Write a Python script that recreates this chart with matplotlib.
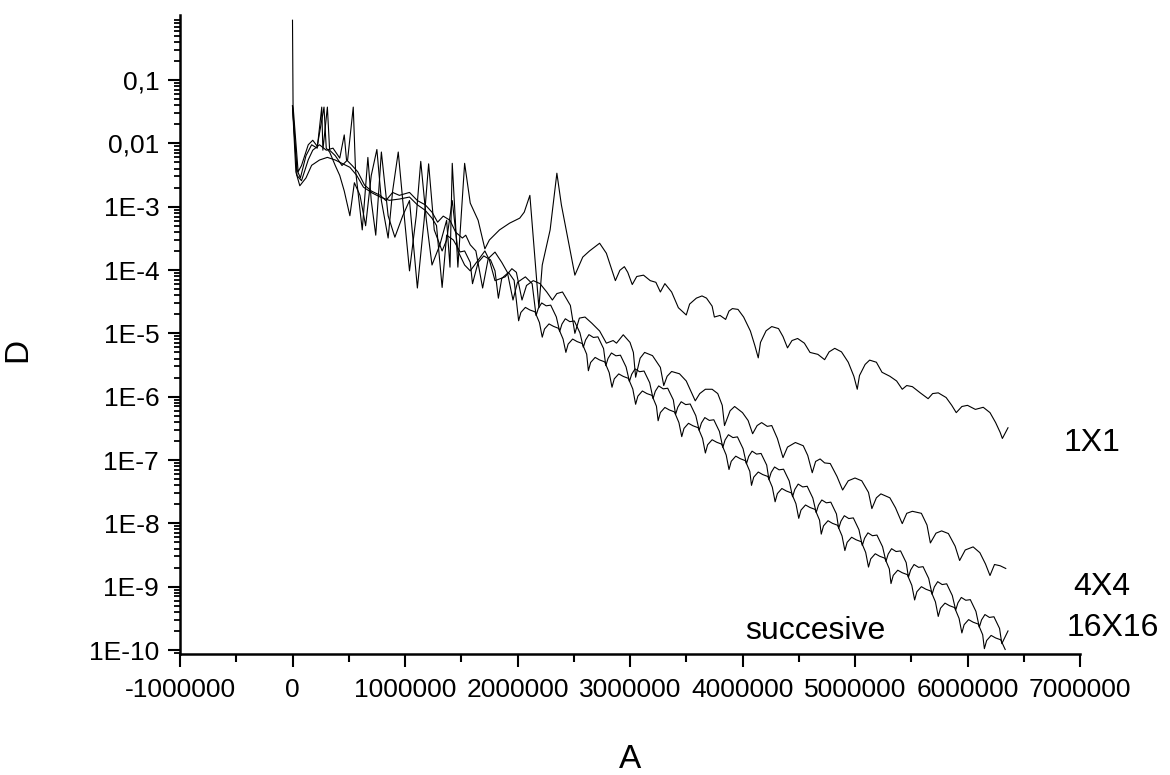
import numpy as np
import matplotlib
matplotlib.use("Agg")
import matplotlib.pyplot as plt
from matplotlib.ticker import FuncFormatter, MultipleLocator, LogLocator, FixedLocator, NullFormatter

plt.rcParams['font.family'] = ['Liberation Sans', 'DejaVu Sans']
plt.rcParams['axes.unicode_minus'] = False

# ---- data (A in millions, D) ----
a_1x1_mill = [0.000, 0.005, 0.05, 0.08, 0.14, 0.18, 0.22, 0.28, 0.30, 0.33, 0.38, 0.42, 0.46, 0.51, 0.55,
              0.60, 0.65, 0.70, 0.75, 0.79, 0.85, 0.89, 0.94, 0.98, 1.04, 1.10, 1.14, 1.19, 1.24, 1.31,
              1.37, 1.40, 1.42, 1.47, 1.53, 1.58, 1.65, 1.71, 1.75, 1.84, 1.93, 2.02, 2.06, 2.11, 2.15,
              2.19, 2.22, 2.29, 2.35, 2.39, 2.45, 2.51, 2.58, 2.64, 2.73, 2.79, 2.87, 2.91, 2.95, 2.98,
              3.02, 3.06, 3.12, 3.18, 3.23, 3.27, 3.31, 3.37, 3.43, 3.50, 3.53, 3.59, 3.64, 3.68, 3.73,
              3.75, 3.80, 3.85, 3.88, 3.91, 3.96, 4.01, 4.07, 4.11, 4.14, 4.16, 4.21, 4.26, 4.32, 4.36,
              4.40, 4.44, 4.49, 4.55, 4.60, 4.67, 4.73, 4.77, 4.82, 4.88, 4.94, 4.99, 5.02, 5.04, 5.09,
              5.13, 5.19, 5.24, 5.31, 5.37, 5.42, 5.46, 5.51, 5.58, 5.65, 5.69, 5.74, 5.81, 5.86, 5.90,
              5.95, 6.00, 6.07, 6.14, 6.20, 6.25, 6.29, 6.31, 6.36]
d_1x1 = [0.88, 0.039, 3.56e-3, 4.47e-3, 9.5e-3, 0.0112, 9.0e-3, 0.0374, 8.4e-3, 7.3e-3, 4.47e-3, 3.11e-3, 1.77e-3, 7.2e-4, 2.39e-3,
         1.51e-3, 5.0e-4, 3.11e-3, 8.0e-3, 1.25e-3, 3.2e-4, 1.77e-3, 7.3e-3, 1.25e-3, 9.7e-5, 7.2e-4, 5.2e-3, 6.1e-4, 1.2e-4, 2.5e-4,
         6.1e-4, 1.11e-4, 4.84e-3, 1.11e-4, 4.84e-3, 1.14e-3, 6.1e-4, 2.16e-4, 2.98e-4, 4.3e-4, 5.5e-4, 6.6e-4, 8.2e-4, 1.51e-3, 2.0e-4,
         2.54e-5, 1.2e-4, 4.3e-4, 3.38e-3, 1.07e-3, 2.98e-4, 8.3e-5, 1.6e-4, 2.0e-4, 2.65e-4, 1.84e-4, 6.8e-5, 9.9e-5, 1.13e-4, 9.2e-5,
         5.9e-5, 7.9e-5, 8.3e-5, 6.8e-5, 6.4e-5, 4.5e-5, 6.1e-5, 4.5e-5, 2.54e-5, 1.95e-5, 2.9e-5, 3.6e-5, 3.9e-5, 3.6e-5, 2.69e-5,
         1.81e-5, 1.92e-5, 1.66e-5, 2.25e-5, 2.46e-5, 2.39e-5, 1.81e-5, 1.09e-5, 6.4e-6, 4.1e-6, 7.2e-6, 1.1e-5, 1.28e-5, 1.19e-5, 8.9e-6,
         5.9e-6, 7.7e-6, 8.3e-6, 7.0e-6, 5.0e-6, 4.66e-6, 3.84e-6, 5.1e-6, 5.8e-6, 5.1e-6, 3.5e-6, 2.1e-6, 1.31e-6, 2.16e-6, 3.23e-6,
         3.78e-6, 3.5e-6, 2.43e-6, 2.1e-6, 1.77e-6, 1.31e-6, 1.5e-6, 1.44e-6, 1.15e-6, 9.3e-7, 1.12e-6, 1.15e-6, 9.7e-7, 7.3e-7, 5.6e-7,
         7.0e-7, 7.3e-7, 6.3e-7, 6.8e-7, 5.6e-7, 3.9e-7, 2.74e-7, 2.19e-7, 3.23e-7]

a_4x4_mill = [0.00, 0.04, 0.07, 0.12, 0.17, 0.22, 0.26, 0.27, 0.31, 0.33, 0.38, 0.44, 0.49, 0.54, 0.56,
              0.62, 0.67, 0.70, 0.74, 0.79, 0.85, 0.91, 0.98, 1.04, 1.11, 1.17, 1.21, 1.26, 1.33, 1.37,
              1.42, 1.47, 1.53, 1.58, 1.67, 1.71, 1.75, 1.80, 1.89, 1.95, 1.99, 2.04, 2.08, 2.14, 2.20,
              2.26, 2.31, 2.35, 2.40, 2.47, 2.51, 2.55, 2.60, 2.66, 2.73, 2.79, 2.85, 2.88, 2.94, 3.00,
              3.03, 3.05, 3.09, 3.13, 3.20, 3.27, 3.30, 3.33, 3.37, 3.44, 3.50, 3.58, 3.62, 3.67, 3.73,
              3.78, 3.82, 3.84, 3.89, 3.93, 4.00, 4.05, 4.09, 4.13, 4.17, 4.22, 4.26, 4.31, 4.36, 4.40,
              4.47, 4.54, 4.58, 4.62, 4.65, 4.69, 4.73, 4.78, 4.84, 4.89, 4.94, 5.00, 5.06, 5.12, 5.15,
              5.19, 5.23, 5.31, 5.36, 5.42, 5.46, 5.51, 5.59, 5.64, 5.67, 5.72, 5.77, 5.83, 5.89, 5.93,
              5.98, 6.05, 6.11, 6.16, 6.20, 6.24, 6.29, 6.34]
d_4x4 = [0.039, 3.83e-3, 2.84e-3, 6.4e-3, 9.5e-3, 8.4e-3, 0.0374, 7.8e-3, 0.0374, 7.8e-3, 6.4e-3, 4.47e-3, 5.5e-3, 0.0374, 3.83e-3,
         4.3e-4, 6.0e-3, 1.25e-3, 3.55e-4, 7.3e-3, 7.2e-4, 3.3e-4, 7.2e-4, 1.25e-3, 5.2e-5, 6.1e-4, 4.75e-3, 4.3e-4, 2.0e-4, 2.98e-4,
         1.25e-3, 2.0e-4, 1.2e-4, 9.7e-5, 1.6e-4, 2.0e-4, 1.44e-4, 6.8e-5, 7.8e-5, 1.05e-4, 9.2e-5, 3.36e-5, 5.7e-5, 6.8e-5, 6.1e-5,
         4.5e-5, 3.36e-5, 4.25e-5, 4.5e-5, 2.76e-5, 1.0e-5, 1.74e-5, 1.81e-5, 1.45e-5, 1.09e-5, 7.0e-6, 7.7e-6, 7.0e-6, 9.5e-6, 7.2e-6,
         5.0e-6, 2.03e-6, 4.05e-6, 5.0e-6, 4.45e-6, 2.9e-6, 1.5e-6, 2.1e-6, 2.5e-6, 2.3e-6, 1.77e-6, 8.6e-7, 1.12e-6, 1.31e-6, 1.31e-6,
         1.12e-6, 7.3e-7, 3.5e-7, 6.0e-7, 7.0e-7, 5.6e-7, 4.2e-7, 2.6e-7, 3.5e-7, 3.9e-7, 3.4e-7, 3.5e-7, 2.19e-7, 1.09e-7, 1.6e-7,
         1.89e-7, 1.68e-7, 1.18e-7, 6.3e-8, 9.5e-8, 1.04e-7, 9.0e-8, 8.8e-8, 5.5e-8, 3.36e-8, 4.7e-8, 5.2e-8, 4.7e-8, 3.08e-8, 1.71e-8,
         2.53e-8, 2.92e-8, 2.53e-8, 1.76e-8, 9.9e-9, 1.44e-8, 1.55e-8, 1.44e-8, 9.4e-9, 4.9e-9, 7.0e-9, 7.6e-9, 6.9e-9, 4.36e-9, 2.59e-9,
         3.8e-9, 4.25e-9, 3.44e-9, 2.28e-9, 1.5e-9, 2.24e-9, 2.14e-9, 1.94e-9]

a_16x16_mill = [0.00, 0.04, 0.08, 0.14, 0.18, 0.24, 0.30, 0.36, 0.42, 0.46, 0.48, 0.53, 0.58, 0.64, 0.70,
                0.78, 0.83, 0.89, 0.95, 1.04, 1.11, 1.18, 1.24, 1.29, 1.34, 1.40, 1.45, 1.51, 1.54, 1.58,
                1.63, 1.69, 1.74, 1.80, 1.86, 1.91, 1.96, 2.00, 2.07, 2.13,
                2.165, 2.185, 2.215, 2.255, 2.295, 2.345, 2.375, 2.395, 2.425, 2.465, 2.505, 2.555,
                2.585, 2.605, 2.635, 2.675, 2.715, 2.765, 2.785, 2.805, 2.835, 2.875, 2.915, 2.965,
                2.995, 3.015, 3.045, 3.085, 3.125, 3.175, 3.205, 3.225, 3.255, 3.295, 3.335, 3.385,
                3.405, 3.425, 3.455, 3.495, 3.535, 3.585, 3.615, 3.635, 3.665, 3.705, 3.745, 3.795,
                3.825, 3.845, 3.875, 3.915, 3.955, 4.005, 4.035, 4.055, 4.085, 4.125, 4.165, 4.215,
                4.235, 4.255, 4.285, 4.325, 4.365, 4.415, 4.445, 4.465, 4.495, 4.535, 4.575, 4.625,
                4.655, 4.675, 4.705, 4.745, 4.785, 4.835, 4.855, 4.875, 4.905, 4.945, 4.985, 5.035,
                5.065, 5.085, 5.115, 5.155, 5.195, 5.245, 5.275, 5.295, 5.325, 5.365, 5.405, 5.455,
                5.475, 5.495, 5.525, 5.565, 5.605, 5.655, 5.685, 5.705, 5.735, 5.775, 5.815, 5.865,
                5.895, 5.915, 5.945, 5.985, 6.025, 6.075, 6.105, 6.125, 6.155, 6.195, 6.235, 6.285,
                6.305, 6.36]
d_16x16 = [0.039, 3.11e-3, 2.57e-3, 5.5e-3, 7.8e-3, 9.5e-3, 7.8e-3, 8.4e-3, 5.85e-3, 0.0136, 5.5e-3, 4.47e-3, 3.56e-3, 2.2e-3, 1.77e-3,
           1.51e-3, 1.25e-3, 1.68e-3, 1.51e-3, 1.68e-3, 1.25e-3, 1.07e-3, 8.2e-4, 5.7e-4, 7.1e-4, 6.1e-4, 3.96e-4, 3.2e-4, 3.55e-4, 2.5e-4,
           2.0e-4, 5.2e-5, 1.52e-4, 1.92e-4, 1.32e-4, 9.2e-5, 3.36e-5, 6.4e-5, 7.8e-5, 6.1e-5,
           1.91e-5, 2.48e-5, 3.02e-5, 2.72e-5, 2.79e-5, 1.82e-5, 1.07e-5, 1.40e-5, 1.70e-5, 1.53e-5, 1.57e-5, 1.02e-5,
           6.03e-6, 7.85e-6, 9.55e-6, 8.61e-6, 8.81e-6, 5.75e-6, 3.09e-6, 4.03e-6, 4.90e-6, 4.42e-6, 4.52e-6, 2.95e-6,
           1.74e-6, 2.26e-6, 2.75e-6, 2.48e-6, 2.54e-6, 1.66e-6, 9.33e-7, 1.22e-6, 1.48e-6, 1.33e-6, 1.36e-6, 8.91e-7,
           5.25e-7, 6.84e-7, 8.32e-7, 7.50e-7, 7.67e-7, 5.01e-7, 2.95e-7, 3.85e-7, 4.68e-7, 4.22e-7, 4.32e-7, 2.82e-7,
           1.58e-7, 2.07e-7, 2.51e-7, 2.26e-7, 2.32e-7, 1.51e-7, 8.71e-8, 1.14e-7, 1.38e-7, 1.24e-7, 1.27e-7, 8.32e-8,
           4.90e-8, 6.38e-8, 7.76e-8, 7.00e-8, 7.16e-8, 4.68e-8, 2.63e-8, 3.43e-8, 4.17e-8, 3.76e-8, 3.85e-8, 2.51e-8,
           1.48e-8, 1.93e-8, 2.34e-8, 2.11e-8, 2.16e-8, 1.41e-8, 8.32e-9, 1.08e-8, 1.32e-8, 1.19e-8, 1.22e-8, 7.94e-9,
           4.47e-9, 5.82e-9, 7.08e-9, 6.38e-9, 6.53e-9, 4.27e-9, 2.51e-9, 3.27e-9, 3.98e-9, 3.59e-9, 3.67e-9, 2.40e-9,
           1.41e-9, 1.84e-9, 2.24e-9, 2.02e-9, 2.07e-9, 1.35e-9, 7.59e-10, 9.89e-10, 1.20e-9, 1.08e-9, 1.11e-9, 7.24e-10,
           4.27e-10, 5.56e-10, 6.76e-10, 6.10e-10, 6.24e-10, 4.07e-10, 2.29e-10, 2.99e-10, 3.63e-10, 3.27e-10, 3.35e-10, 2.19e-10,
           1.26e-10, 2.0e-10]

a_succ_mill = [0.00, 0.03, 0.065, 0.12, 0.17, 0.24, 0.31, 0.38, 0.44, 0.51, 0.57, 0.63, 0.71, 0.78, 0.86,
               0.95, 1.04, 1.11, 1.18, 1.24, 1.28, 1.33, 1.37, 1.43, 1.49, 1.53, 1.58, 1.60, 1.65, 1.70,
               1.76, 1.80, 1.83, 1.86, 1.92, 1.97,
               2.01, 2.03, 2.07, 2.11, 2.155, 2.195, 2.22, 2.24, 2.28, 2.32, 2.365, 2.405,
               2.43, 2.45, 2.49, 2.53, 2.575, 2.615, 2.63, 2.65, 2.69, 2.73, 2.775, 2.815,
               2.84, 2.86, 2.90, 2.94, 2.985, 3.025, 3.05, 3.07, 3.11, 3.15, 3.195, 3.235,
               3.25, 3.27, 3.31, 3.35, 3.395, 3.435, 3.46, 3.48, 3.52, 3.56, 3.605, 3.645,
               3.67, 3.69, 3.73, 3.77, 3.815, 3.855, 3.88, 3.90, 3.94, 3.98, 4.025, 4.065,
               4.08, 4.10, 4.14, 4.18, 4.225, 4.265, 4.29, 4.31, 4.35, 4.39, 4.435, 4.475,
               4.50, 4.52, 4.56, 4.60, 4.645, 4.685, 4.70, 4.72, 4.76, 4.80, 4.845, 4.885,
               4.91, 4.93, 4.97, 5.01, 5.055, 5.095, 5.12, 5.14, 5.18, 5.22, 5.265, 5.305,
               5.32, 5.34, 5.38, 5.42, 5.465, 5.505, 5.53, 5.55, 5.59, 5.63, 5.675, 5.715,
               5.74, 5.76, 5.80, 5.84, 5.885, 5.925, 5.95, 5.97, 6.01, 6.05, 6.095, 6.135,
               6.15, 6.17, 6.21, 6.25, 6.295, 6.335]
d_succ = [0.039, 3.54e-3, 2.14e-3, 2.85e-3, 4.5e-3, 5.46e-3, 6.01e-3, 5.46e-3, 4.84e-3, 4.19e-3, 3.14e-3, 2.04e-3, 1.64e-3, 1.42e-3, 1.26e-3,
          1.32e-3, 1.42e-3, 1.07e-3, 8.77e-4, 6.58e-4, 5.05e-4, 5.31e-5, 3.55e-4, 2.98e-4, 1.93e-4, 2.0e-4, 1.32e-4, 6.08e-5, 1.32e-4, 1.67e-4,
          1.45e-4, 9.7e-5, 3.59e-5, 7.38e-5, 9.16e-5, 6.87e-5,
          1.58e-5, 2.14e-5, 2.57e-5, 2.34e-5, 2.19e-5, 1.48e-5, 8.71e-6, 1.17e-5, 1.41e-5, 1.29e-5, 1.20e-5, 8.13e-6,
          5.01e-6, 6.76e-6, 8.13e-6, 7.41e-6, 6.92e-6, 4.68e-6, 2.57e-6, 3.47e-6, 4.17e-6, 3.80e-6, 3.55e-6, 2.40e-6,
          1.41e-6, 1.91e-6, 2.29e-6, 2.09e-6, 1.95e-6, 1.32e-6, 7.59e-7, 1.02e-6, 1.23e-6, 1.12e-6, 1.05e-6, 7.08e-7,
          4.17e-7, 5.62e-7, 6.76e-7, 6.17e-7, 5.75e-7, 3.89e-7, 2.34e-7, 3.16e-7, 3.80e-7, 3.47e-7, 3.24e-7, 2.19e-7,
          1.29e-7, 1.74e-7, 2.09e-7, 1.91e-7, 1.78e-7, 1.20e-7, 7.08e-8, 9.55e-8, 1.15e-7, 1.05e-7, 9.77e-8, 6.61e-8,
          3.98e-8, 5.37e-8, 6.46e-8, 5.89e-8, 5.50e-8, 3.72e-8, 2.19e-8, 2.95e-8, 3.55e-8, 3.24e-8, 3.02e-8, 2.04e-8,
          1.20e-8, 1.62e-8, 1.95e-8, 1.78e-8, 1.66e-8, 1.12e-8, 6.76e-9, 9.12e-9, 1.10e-8, 1.00e-8, 9.33e-9, 6.31e-9,
          3.72e-9, 5.01e-9, 6.03e-9, 5.50e-9, 5.13e-9, 3.47e-9, 2.04e-9, 2.75e-9, 3.31e-9, 3.02e-9, 2.82e-9, 1.91e-9,
          1.12e-9, 1.51e-9, 1.82e-9, 1.66e-9, 1.55e-9, 1.05e-9, 6.17e-10, 8.32e-10, 1.00e-9, 9.12e-10, 8.51e-10, 5.75e-10,
          3.39e-10, 4.57e-10, 5.50e-10, 5.01e-10, 4.68e-10, 3.16e-10, 1.86e-10, 2.51e-10, 3.02e-10, 2.75e-10, 2.57e-10, 1.74e-10,
          1.05e-10, 1.41e-10, 1.70e-10, 1.55e-10, 1.45e-10, 1.02e-10]

series_labels = ["1X1", "4X4", "16X16", "succesive"]
x_ticks = [-1000000, 0, 1000000, 2000000, 3000000, 4000000, 5000000, 6000000, 7000000]
y_ticks = [1e-10, 1e-9, 1e-8, 1e-7, 1e-6, 1e-5, 1e-4, 1e-3, 1e-2, 1e-1]
y_tick_labels = ["1E-10", "1E-9", "1E-8", "1E-7", "1E-6", "1E-5", "1E-4", "1E-3", "0,01", "0,1"]

# ---- figure ----
fig = plt.figure(figsize=(11.70, 7.75), dpi=100)
ax = fig.add_axes([180/1170, 121/775, 900/1170, 639/775])

for a_m, d in [(a_1x1_mill, d_1x1), (a_4x4_mill, d_4x4), (a_16x16_mill, d_16x16), (a_succ_mill, d_succ)]:
    ax.plot(np.array(a_m) * 1e6, d, color='black', lw=0.8, solid_joinstyle='round')

ax.set_yscale('log')
ax.set_xlim(-1000000, 7000000)
ax.set_ylim(8.65e-11, 1.064)

ax.xaxis.set_major_locator(FixedLocator(x_ticks))
ax.xaxis.set_minor_locator(MultipleLocator(500000))
ax.xaxis.set_major_formatter(FuncFormatter(lambda v, p: f"{int(round(v))}"))

ax.yaxis.set_major_locator(FixedLocator(y_ticks))
ax.yaxis.set_major_formatter(FuncFormatter(lambda v, p: y_tick_labels[p] if p is not None and p < len(y_tick_labels) else ""))
ax.yaxis.set_minor_locator(LogLocator(base=10, subs=np.arange(2, 10), numticks=100))
ax.yaxis.set_minor_formatter(NullFormatter())

for s in ['top', 'right']:
    ax.spines[s].set_visible(False)
for s in ['left', 'bottom']:
    ax.spines[s].set_linewidth(1.8)

ax.tick_params(axis='both', which='major', direction='out', length=9, width=1.5, labelsize=19)
ax.tick_params(axis='x', which='major', pad=8)
ax.tick_params(axis='y', which='major', pad=6)
ax.tick_params(axis='x', which='minor', direction='out', length=5.5, width=1.5)
ax.tick_params(axis='y', which='minor', direction='out', length=4, width=1.3)

fig.text(18/1170, 1 - 350/775, "D", rotation=90, fontsize=24, ha='center', va='center')
fig.text(630/1170, 1 - 760/775, "A", fontsize=24, ha='center', va='center')

ax.text(6.85e6, 1.84e-7, series_labels[0], fontsize=23, ha='left', va='center', clip_on=False)
ax.text(6.94e6, 9.8e-10, series_labels[1], fontsize=23, ha='left', va='center', clip_on=False)
ax.text(6.88e6, 2.2e-10, series_labels[2], fontsize=23, ha='left', va='center', clip_on=False)
ax.text(4.02e6, 2.0e-10, series_labels[3], fontsize=23, ha='left', va='center', clip_on=False)

fig.savefig("out.png", dpi=100, facecolor='white')
